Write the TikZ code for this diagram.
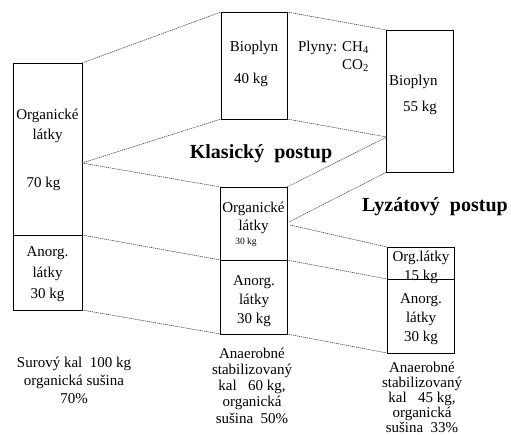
\documentclass[tikz,border=0pt]{standalone}
\usepackage{fontspec}
\setmainfont{Liberation Serif}
\begin{document}
\begin{tikzpicture}[x=1pt,y=-1pt,
  boxpart/.style={draw=black, line width=0.8pt, inner sep=0pt, outer sep=0pt, anchor=center},
  txt/.style={inner sep=0pt, align=center, font=\fontsize{15}{20}\selectfont},
  captext/.style={inner sep=0pt, align=center},
  ttl/.style={inner sep=0pt, font=\fontsize{20}{24}\selectfont\bfseries},
  conn/.style={line width=0.6pt, black!75, dash pattern=on 1.2pt off 0.8pt}]
\useasboundingbox (0,0) rectangle (511,434);

% boxes
\node[boxpart, minimum width=69pt, minimum height=172pt] (lorg) at (47.5,149) {};
\node[boxpart, minimum width=69pt, minimum height=75pt] (lan) at (47.5,272.5) {};
\node[boxpart, minimum width=66pt, minimum height=107pt] (bmid) at (254,65.5) {};
\node[boxpart, minimum width=66.5pt, minimum height=73pt] (morg) at (253.75,223.5) {};
\node[boxpart, minimum width=66.5pt, minimum height=74pt] (man) at (253.75,297) {};
\node[boxpart, minimum width=66.5pt, minimum height=142pt] (bright) at (420,101) {};
\node[boxpart, minimum width=67pt, minimum height=32pt] (rorg) at (420.5,263) {};
\node[boxpart, minimum width=67pt, minimum height=74pt] (ran) at (420.5,316) {};

% free connector ends
\coordinate (lmid) at (82,163);
\coordinate (rbmid) at (386.75,137);
\coordinate (mo1) at (289,222);
\coordinate (mo2) at (290,225);

% connectors
\draw[conn] (lorg.north east) -- (bmid.north west);
\draw[conn] (lmid) -- (bmid.south west);
\draw[conn] (lmid) -- (morg.north west);
\draw[conn] (lorg.south east) -- (morg.south west);
\draw[conn] (lan.south east) -- (man.south west);
\draw[conn] (bmid.north east) -- (bright.north west);
\draw[conn] (bmid.south east) -- (rbmid);
\draw[conn] (morg.north east) -- (rbmid);
\draw[conn] (mo1) -- (bright.south west);
\draw[conn] (mo2) -- (rorg.north west);
\draw[conn] (morg.south east) -- (rorg.south west);
\draw[conn] (man.south east) -- (ran.south west);

% texts in boxes
\node[txt] (t1) at (47.5,126) {Organické\\látky};
\node[txt] (t2) at (43.5,184) {70 kg};
\node[txt, font=\fontsize{15}{21}\selectfont] (t3) at (47.5,274) {Anorg.\\látky\\30 kg};
\node[txt] (t4) at (254,48) {Bioplyn};
\node[txt] (t5) at (251,80) {40 kg};
\node[txt, align=right, anchor=east, font=\fontsize{15}{18}\selectfont] (t6) at (369,56) {Plyny: CH\textsubscript{4}\\CO\textsubscript{2}};
\node[txt, anchor=west] (t7) at (389,82) {Bioplyn};
\node[txt, anchor=west] (t8) at (403,108) {55 kg};
\node[ttl] (t9) at (261,154) {Klasický~~postup};
\node[ttl] (t10) at (435,207) {Lyzátový~~postup};
\node[txt, font=\fontsize{15}{18}\selectfont] (t11) at (253.5,218) {Organické\\látky};
\node[txt, font=\fontsize{9.5}{11}\selectfont] (t12) at (246,242) {30 kg};
\node[txt, font=\fontsize{15}{19}\selectfont] (t13) at (254,301) {Anorg.\\látky\\30 kg};
\node[txt, font=\fontsize{15}{19}\selectfont] (t14) at (421,267.5) {Org.látky\\15 kg};
\node[txt, font=\fontsize{15}{19}\selectfont] (t15) at (421,319) {Anorg.\\látky\\30 kg};
\draw[line width=0.8pt] (rorg.south west) -- (rorg.south east);

% captions
\node[captext, font=\fontsize{15}{18}\selectfont] (c1) at (74,380) {Surový kal~~100 kg\\organická sušina\\70\%};
\node[captext, font=\fontsize{15}{16.25}\selectfont] (c2) at (252,385.5) {Anaerobné\\stabilizovaný\\kal~~~60 kg,\\organická\\sušina~~50\%};
\node[captext, font=\fontsize{15}{15}\selectfont] (c3) at (422,397) {Anaerobné\\stabilizovaný\\kal~~~45 kg,\\organická\\sušina~~33\%};
\end{tikzpicture}
\end{document}
